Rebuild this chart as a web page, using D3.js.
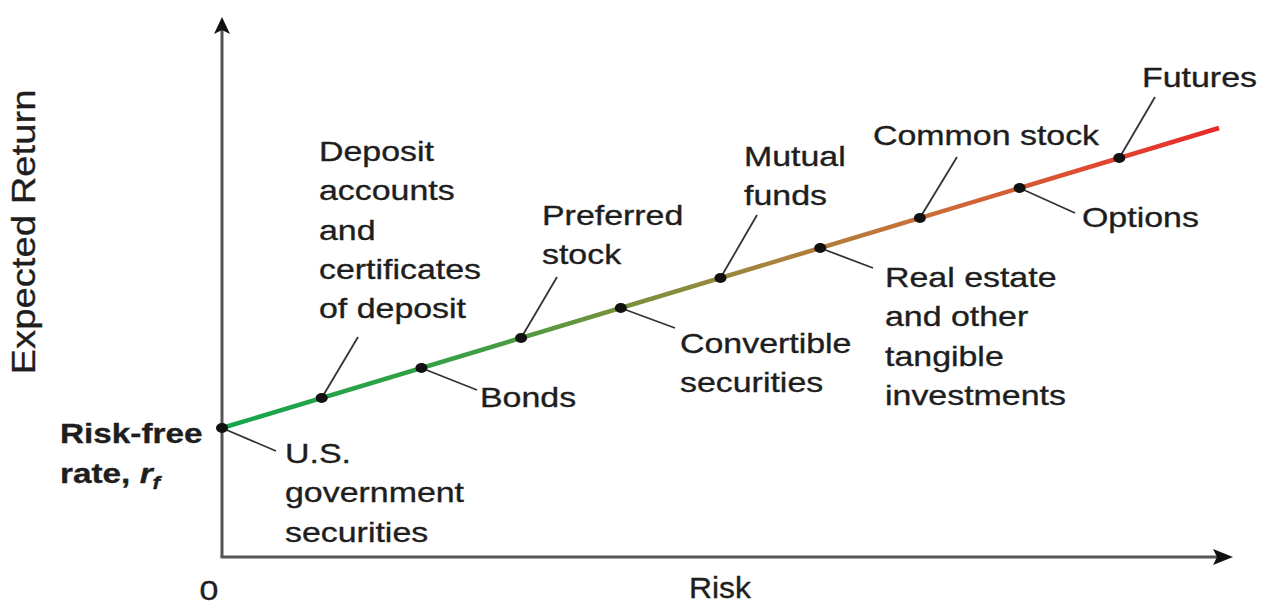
<!DOCTYPE html>
<html lang="en">
<head>
<meta charset="UTF-8">
<title>Risk and expected return</title>
<script src="https://cdn.jsdelivr.net/npm/d3@7"></script>
<style>
  body { margin: 0; background: #fff; }
  text { font-family: "Liberation Sans", Arial, Helvetica, sans-serif; fill: #1e1e1e; stroke: #1e1e1e; stroke-width: 0.35; }
</style>
</head>
<body>
<div id="chart"></div>
<script>
// asset classes, bottom-left to top-right along the line
var assets = ["U.S. government securities", "Deposit accounts and certificates of deposit", "Bonds",
  "Preferred stock", "Convertible securities", "Mutual funds",
  "Real estate and other tangible investments", "Common stock", "Options", "Futures"];
var labelLines = [
  ["U.S.", "government", "securities"],
  ["Deposit", "accounts", "and", "certificates", "of deposit"],
  ["Bonds"],
  ["Preferred", "stock"],
  ["Convertible", "securities"],
  ["Mutual", "funds"],
  ["Real estate", "and other", "tangible", "investments"],
  ["Common stock"],
  ["Options"],
  ["Futures"]
];
var risk = [0, 1, 2, 3, 4, 5, 6, 7, 8, 9];
var expectedReturn = [4.3, 5.3, 6.3, 7.3, 8.3, 9.3, 10.3, 11.3, 12.3, 13.3];
// the line runs a bit past the last asset
var lineRisk = [0, 10];
var lineReturn = [4.3, 14.3];

var W = 1269, H = 606;
var svg = d3.select("#chart").append("svg").attr("width", W).attr("height", H);

var x = d3.scaleLinear().domain([0, 10]).range([222, 1219]);
var y = d3.scaleLinear().domain([0, 18]).range([557, 17]);
var sx = 1.19;   // the type in the picture is set wide

// label placement: leader end, text left edge, first baseline
var layout = [
  {ex: 276, ey: 451, tx: 285, ty: 463},
  {ex: 358, ey: 337, tx: 319, ty: 161},
  {ex: 477, ey: 390, tx: 480, ty: 407},
  {ex: 557, ey: 277, tx: 542, ty: 225},
  {ex: 675, ey: 328, tx: 680, ty: 353},
  {ex: 757, ey: 215, tx: 744, ty: 166},
  {ex: 873, ey: 268, tx: 885, ty: 287},
  {ex: 957, ey: 157, tx: 873, ty: 145},
  {ex: 1075, ey: 213, tx: 1082, ty: 227},
  {ex: 1155, ey: 97, tx: 1142, ty: 87}
];
var lh = 39.3;

var defs = svg.append("defs");
var grad = defs.append("linearGradient").attr("id", "riskgrad")
  .attr("gradientUnits", "userSpaceOnUse")
  .attr("x1", x(0)).attr("x2", x(10)).attr("y1", 0).attr("y2", 0);
[["0%", "#14a64c"], ["25%", "#3c9f45"], ["40%", "#77913c"], ["55%", "#a6833d"],
 ["70%", "#c8703a"], ["85%", "#dc4f30"], ["100%", "#e8292a"]].forEach(function(s) {
  grad.append("stop").attr("offset", s[0]).attr("stop-color", s[1]);
});

// axes
svg.append("line").attr("x1", x(0)).attr("y1", y(0)).attr("x2", x(0)).attr("y2", 30)
  .attr("stroke", "#555").attr("stroke-width", 3);
svg.append("line").attr("x1", x(0) - 1.5).attr("y1", y(0)).attr("x2", 1218).attr("y2", y(0))
  .attr("stroke", "#555").attr("stroke-width", 3);
var ax = x(0);
svg.append("path")
  .attr("d", "M" + ax + ",17 L" + (ax + 8) + ",34 L" + ax + ",30 L" + (ax - 8) + ",34 Z")
  .attr("fill", "#111");
var ay = y(0);
svg.append("path")
  .attr("d", "M1233," + ay + " L1213," + (ay - 8) + " L1217," + ay + " L1213," + (ay + 8) + " Z")
  .attr("fill", "#111");

// axis texts
svg.append("text").attr("transform", "translate(209,600) scale(" + sx + ",1)")
  .attr("text-anchor", "middle").attr("font-size", 28.5).text("0");
svg.append("text").attr("transform", "translate(689,598) scale(1.08,1)")
  .attr("font-size", 29.5).text("Risk");
svg.append("text").attr("transform", "translate(35,232) rotate(-90)")
  .attr("text-anchor", "middle").attr("font-size", 34)
  .attr("textLength", 285).attr("lengthAdjust", "spacingAndGlyphs")
  .text("Expected Return");

var rf = svg.append("g").attr("transform", "translate(60,443) scale(" + sx + ",1)");
rf.append("text").attr("font-size", 28).attr("font-weight", "bold").text("Risk-free");
var rf2 = rf.append("text").attr("y", 40).attr("font-size", 28).attr("font-weight", "bold");
rf2.append("tspan").text("rate, ");
rf2.append("tspan").attr("font-style", "italic").text("r");
rf2.append("tspan").attr("font-style", "italic").attr("font-size", 19).attr("dy", 6).text("f");

// leaders
var pts = risk.map(function(r, i) { return {r: r, v: expectedReturn[i], i: i}; });
svg.append("g").selectAll("line").data(pts).enter().append("line")
  .attr("x1", function(d) { return x(d.r); })
  .attr("y1", function(d) { return y(d.v); })
  .attr("x2", function(d) { return layout[d.i].ex; })
  .attr("y2", function(d) { return layout[d.i].ey; })
  .attr("stroke", "#333").attr("stroke-width", 1.8);

// the risk/return line
var line = d3.line().x(function(d) { return x(d[0]); }).y(function(d) { return y(d[1]); });
svg.append("path").attr("d", line(lineRisk.map(function(r, i) { return [r, lineReturn[i]]; })))
  .attr("stroke", "url(#riskgrad)").attr("stroke-width", 4.5).attr("fill", "none");

// dots
svg.append("g").selectAll("ellipse").data(pts).enter().append("ellipse")
  .attr("cx", function(d) { return x(d.r); })
  .attr("cy", function(d) { return y(d.v); })
  .attr("rx", 6).attr("ry", 5).attr("fill", "#111");

// labels
var lab = svg.append("g").selectAll("g").data(pts).enter().append("g")
  .attr("transform", function(d) {
    return "translate(" + layout[d.i].tx + "," + layout[d.i].ty + ") scale(" + sx + ",1)";
  });
lab.append("text").attr("font-size", 28.5)
  .selectAll("tspan").data(function(d) { return labelLines[d.i]; }).enter().append("tspan")
  .attr("x", 0).attr("y", function(d, j) { return j * lh; })
  .text(function(d) { return d; });
</script>
</body>
</html>
